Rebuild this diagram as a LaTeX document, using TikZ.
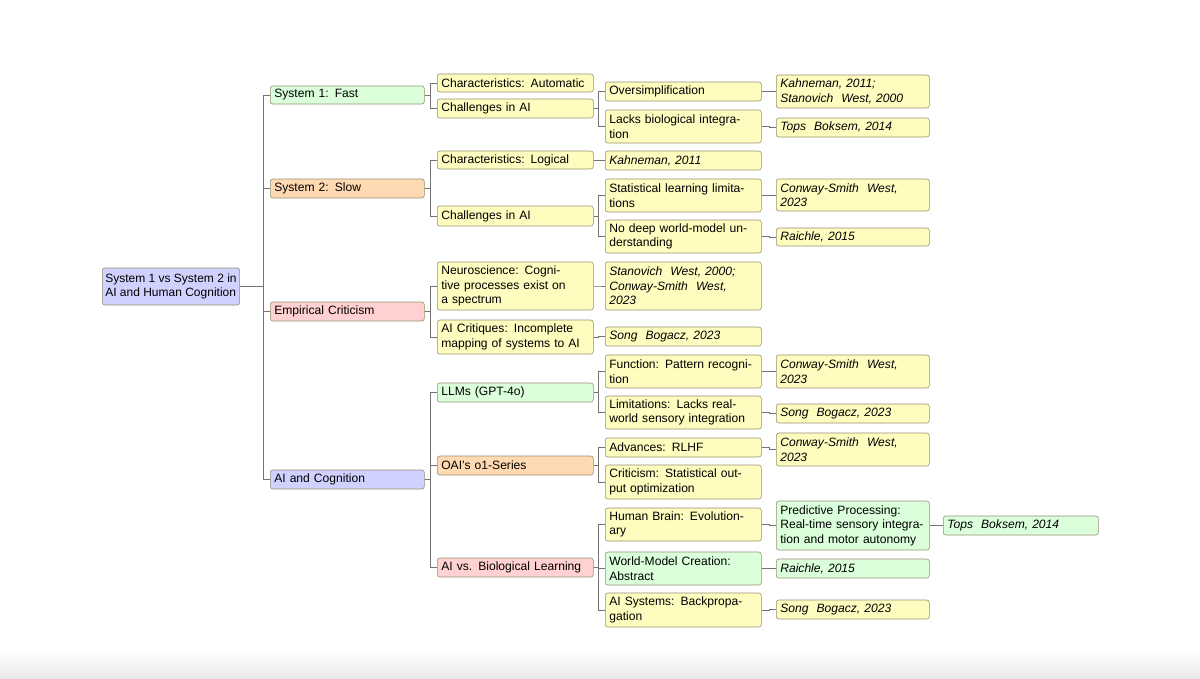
\documentclass[tikz,border=0pt]{standalone}
\usepackage{fontspec}
\setmainfont{Liberation Sans}
\begin{document}
\begin{tikzpicture}[x=1pt,y=-1pt,
  bx/.style={draw=black!45!yellow!40!gray, rounded corners=2.5pt, line width=0.6pt, inner xsep=4pt, inner ysep=1pt, align=left, font=\fontsize{12.1}{14.5}\selectfont, anchor=west},
  cy/.style={fill=yellow!25},
  cg/.style={fill=green!14},
  co/.style={fill=orange!30},
  cp/.style={fill=red!18},
  cb/.style={fill=blue!18},
  ln/.style={draw=black!55, line width=0.6pt},
  it/.style={font=\fontsize{12.1}{14.5}\selectfont\itshape}]
\useasboundingbox (0,0) rectangle (1200,678);
\shade[top color=white,bottom color=black!9] (0,652) rectangle (1200,678);
\newcommand\bx[7]{\node[bx,minimum width=#4-#2,text width=#4-#2-7,minimum height=#5-#3,#6] (#1) at (#2,{(#3+#5)/2}) {#7};}
% root
\bx{r}{102}{268}{228}{305}{cb,text width={},inner xsep=3pt,font=\fontsize{12}{14.5}\selectfont}{System 1 vs System 2 in\\AI and Human Cognition}
% L1
\bx{s1}{270}{86}{423}{104}{cg}{System 1: Fast}
\bx{s2}{270}{179}{423}{198}{co}{System 2: Slow}
\bx{ec}{270}{302}{423}{321}{cp}{Empirical Criticism}
\bx{ai}{270}{470}{423}{489}{cb}{AI and Cognition}
% L2
\bx{ca}{437}{74}{592}{92}{cy}{Characteristics: Automatic}
\bx{c1}{437}{99}{592}{118}{cy}{Challenges in AI}
\bx{cl}{437}{151}{592}{169}{cy}{Characteristics: Logical}
\bx{c2}{437}{206}{592}{226}{cy}{Challenges in AI}
\bx{ns}{437}{262}{592}{310}{cy}{Neuroscience: Cogni-\\tive processes exist on\\a spectrum}
\bx{ac}{437}{320}{592}{354}{cy}{AI Critiques: Incomplete\\mapping of systems to AI}
\bx{ll}{437}{383}{592}{402}{cg}{LLMs (GPT-4o)}
\bx{oa}{437}{456}{592}{475}{co}{OAI's o1-Series}
\bx{vb}{437}{558}{592}{577}{cp}{AI vs. Biological Learning}
% L3
\bx{ov}{605}{82}{760}{101}{cy}{Oversimplification}
\bx{lb}{605}{110}{760}{143}{cy}{Lacks biological integra-\\tion}
\bx{k1}{605}{151}{760}{170}{cy,it}{Kahneman, 2011}
\bx{sl}{605}{179}{760}{212}{cy}{Statistical learning limita-\\tions}
\bx{nd}{605}{220}{760}{253}{cy}{No deep world-model un-\\derstanding}
\bx{sw}{605}{262}{760}{310}{cy,it}{Stanovich\ \ West, 2000;\\Conway-Smith\ \ West,\\2023}
\bx{sb1}{605}{327}{760}{346}{cy,it}{Song\ \ Bogacz, 2023}
\bx{fn}{605}{355}{760}{388}{cy}{Function: Pattern recogni-\\tion}
\bx{lm}{605}{396}{760}{429}{cy}{Limitations: Lacks real-\\world sensory integration}
\bx{ad}{605}{438}{760}{457}{cy}{Advances: RLHF}
\bx{cr}{605}{465}{760}{499}{cy}{Criticism: Statistical out-\\put optimization}
\bx{hb}{605}{508}{760}{541}{cy}{Human Brain: Evolution-\\ary}
\bx{wm}{605}{552}{760}{585}{cg}{World-Model Creation:\\Abstract}
\bx{as}{605}{593}{760}{627}{cy}{AI Systems: Backpropa-\\gation}
% L4
\bx{ks}{776}{75}{928}{108}{cy,it}{Kahneman, 2011;\\Stanovich\ \ West, 2000}
\bx{tb1}{776}{118}{928}{137}{cy,it}{Tops\ \ Boksem, 2014}
\bx{cw1}{776}{179}{928}{211}{cy,it}{Conway-Smith\ \ West,\\2023}
\bx{ra1}{776}{228}{928}{246}{cy,it}{Raichle, 2015}
\bx{cw2}{776}{355}{928}{388}{cy,it}{Conway-Smith\ \ West,\\2023}
\bx{sb2}{776}{404}{928}{423}{cy,it}{Song\ \ Bogacz, 2023}
\bx{cw3}{776}{433}{928}{466}{cy,it}{Conway-Smith\ \ West,\\2023}
\bx{pp}{776}{501}{928}{550}{cg}{Predictive Processing:\\Real-time sensory integra-\\tion and motor autonomy}
\bx{ra2}{776}{559}{928}{578}{cg,it}{Raichle, 2015}
\bx{sb3}{776}{600}{928}{619}{cy,it}{Song\ \ Bogacz, 2023}
% L5
\bx{tb2}{943}{516}{1097}{535}{cg,it}{Tops\ \ Boksem, 2014}
% connectors
\newcommand\cn[2]{\draw[ln] (#1.east) -| ([xshift=-7pt]#2.west) -- (#2.west);}
\foreach \c in {s1,s2,ec,ai} {\cn{r}{\c}}
\foreach \c in {ca,c1} {\cn{s1}{\c}}
\foreach \c in {cl,c2} {\cn{s2}{\c}}
\foreach \c in {ns,ac} {\cn{ec}{\c}}
\foreach \c in {ll,oa,vb} {\cn{ai}{\c}}
\foreach \c in {ov,lb} {\cn{c1}{\c}}
\cn{cl}{k1}
\foreach \c in {sl,nd} {\cn{c2}{\c}}
\cn{ns}{sw}
\cn{ac}{sb1}
\foreach \c in {fn,lm} {\cn{ll}{\c}}
\foreach \c in {ad,cr} {\cn{oa}{\c}}
\foreach \c in {hb,wm,as} {\cn{vb}{\c}}
\cn{ov}{ks}\cn{lb}{tb1}\cn{sl}{cw1}\cn{nd}{ra1}
\cn{fn}{cw2}\cn{lm}{sb2}\cn{ad}{cw3}
\cn{hb}{pp}\cn{wm}{ra2}\cn{as}{sb3}\cn{pp}{tb2}
\end{tikzpicture}
\end{document}
